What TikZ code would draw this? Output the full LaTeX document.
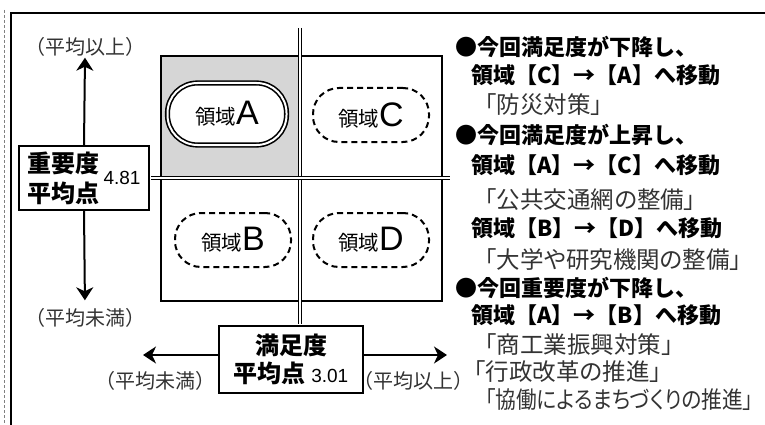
\documentclass[tikz,border=0pt]{standalone}
\usepackage{graphicx}
\usepackage{fontspec}
\usetikzlibrary{positioning,arrows.meta}
\newfontfamily\jpfont{Noto Sans CJK JP}
\newfontfamily\jppfont[RawFeature=+palt]{Noto Sans CJK JP}
\newfontfamily\arialfont{Liberation Sans}
\definecolor{quadgray}{rgb}{0.84,0.84,0.84}
\definecolor{softblack}{rgb}{0.2,0.2,0.2}
\tikzstyle{avgbox}=[%
      rectangle, draw=black, line width=2pt, fill=white,
      inner sep=6pt, align=center
]
\tikzstyle{side}=[%
      text=softblack, inner sep=0pt, font=\jpfont\fontsize{20}{20}\selectfont
]
\tikzstyle{head}=[%
      anchor=west, inner sep=0pt, font=\jpfont\bfseries\fontsize{22}{22}\selectfont
]
\tikzstyle{case}=[%
      anchor=west, inner sep=0pt, text=softblack, font=\jppfont\fontsize{23.5}{23.5}\selectfont
]
\tikzstyle{zone}=[%
      rectangle, rounded corners=26pt, draw=black, line width=2pt, dash pattern=on 6pt off 4pt,
      fill=white, minimum width=116pt, minimum height=54pt, inner sep=0pt,
      font=\jpfont\fontsize{20.5}{20.5}\selectfont
]
\tikzstyle{zonemark}=[%
      zone, solid, double, line width=1.6pt, double distance=2pt,
      minimum width=119pt, minimum height=62pt, rounded corners=30pt
]
\tikzstyle{dbl}=[%
      double, line width=1.3pt, double distance=2pt
]
\tikzstyle{axis}=[%
      line width=2pt, -{Stealth[length=13pt,width=17pt,inset=4pt]}
]
\newcommand{\zonelabel}[1]{領域{\arialfont\fontsize{34}{34}\selectfont #1}}
\newcommand{\avgnum}[1]{{\arialfont\mdseries\fontsize{19}{19}\selectfont #1}}

\begin{document}
\begin{tikzpicture}[x=1pt, y=-1pt]
    \useasboundingbox (0,0) rectangle (765,425);

    % frame
    \draw[gray, dash pattern=on 3pt off 2pt, line width=1pt] (4,10) -- (4,425);
    \draw[line width=2.5pt] (11,425) -- (11,13) -- (765,13);

    % matrix
    \fill[quadgray] (161,56) rectangle (300,178);
    \draw[line width=2pt] (161,56) rectangle (442,301);

    \node[avgbox, minimum width=130pt, minimum height=64pt, inner sep=3pt,
          font=\jpfont\bfseries\fontsize{24}{30}\selectfont] (ybox) at (84,178)
        {\parbox{76pt}{重要度\\平均点}\avgnum{4.81}};
    \node[avgbox, minimum width=144pt, minimum height=67pt, inner sep=3pt,
          font=\jpfont\bfseries\fontsize{24}{28}\selectfont] (xbox) at (291,359.5)
        {満足度\\平均点 \avgnum{3.01}};

    \coordinate (vtop) at (300,28);
    \coordinate (hend) at (450,178);
    \draw[dbl, shorten >=1pt] (vtop) -- (vtop |- xbox.north);
    \draw[dbl, shorten <=1pt] (ybox.east) -- (hend);

    \node[zonemark] (zA) at (227,114) {\zonelabel{A}};
    \node[zone]     (zC) at (371,115) {\zonelabel{C}};
    \node[zone]     (zB) at (233,240) {\zonelabel{B}};
    \node[zone]     (zD) at (371,240) {\zonelabel{D}};

    % axes
    \node[side] (yhi) at (85,47)  {（平均以上）};
    \node[side] (ylo) at (85,318) {（平均未満）};
    \node[side] (xlo) at (155,381) {（平均未満）};
    \node[side] (xhi) at (413,381) {（平均以上）};
    \coordinate (xlotip) at (143,355);
    \coordinate (xhitip) at (447,355);

    \draw[axis, shorten >=1pt] (ybox.north) -- (yhi.south);
    \draw[axis, shorten >=8pt] (ybox.south) -- (ylo.north);
    \draw[axis] (xbox.west |- xlotip) -- (xlotip);
    \draw[axis] (xbox.east |- xhitip) -- (xhitip);

    % moves
    \node[head] (m1)  at (455,47)  {●今回満足度が下降し、};
    \node[head] (m1a) at (471,75)  {領域【C】→【A】へ移動};
    \node[case] (m1b) at (485,105) {「防災対策」};
    \node[head] (m2)  at (455,135) {●今回満足度が上昇し、};
    \node[head] (m2a) at (471,165) {領域【A】→【C】へ移動};
    \node[case] (m2b) at (485,200) {「公共交通網の整備」};
    \node[head] (m2c) at (471,228) {領域【B】→【D】へ移動};
    \node[case] (m2d) at (485,260) {「大学や研究機関の整備」};
    \node[head] (m3)  at (455,288) {●今回重要度が下降し、};
    \node[head] (m3a) at (471,315) {領域【A】→【B】へ移動};
    \node[case] (m3b) at (485,345) {「商工業振興対策」};
    \node[case] (m3c) at (474,372) {「行政改革の推進」};
    \node[case] (m3d) at (485,400) {\resizebox{268pt}{\height}{「協働によるまちづくりの推進」}};
\end{tikzpicture}
\end{document}
